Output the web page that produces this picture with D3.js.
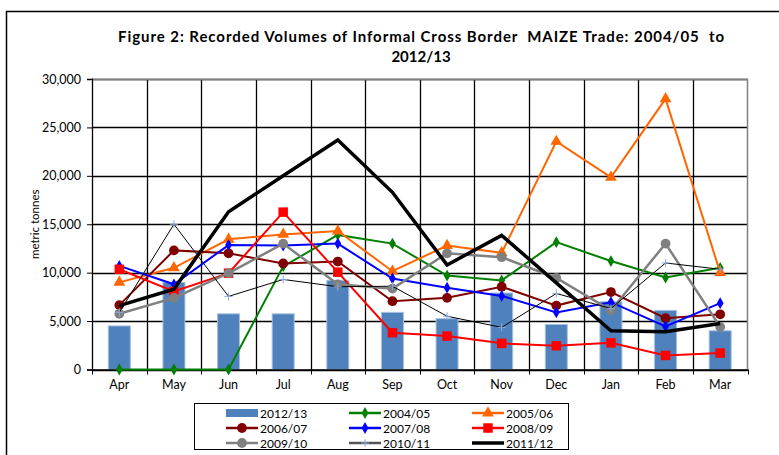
<!DOCTYPE html>
<html>
<head>
<meta charset="utf-8">
<script src="https://d3js.org/d3.v7.min.js"></script>
<style>
  body { margin: 0; background: #fff; }
  text { font-family: Lato, "DejaVu Sans", sans-serif; }
</style>
</head>
<body>
<div id="my_dataviz"></div>
<script>
// months and y ticks
var months = ["Apr", "May", "Jun", "Jul", "Aug", "Sep", "Oct", "Nov", "Dec", "Jan", "Feb", "Mar"]
var yTicks = [0, 5000, 10000, 15000, 20000, 25000, 30000]

// bars
var v2012 = [4500, 9000, 5750, 5750, 9200, 5900, 5250, 7900, 4650, 7000, 6100, 4000]

// lines
var v2004 = [0, 0, 0, 10650, 13900, 13000, 9700, 9200, 13150, 11200, 9500, 10500]
var v2005 = [9000, 10500, 13450, 13950, 14300, 10150, 12800, 12050, 23550, 19850, 27950, 10000]
var v2006 = [6650, 12300, 12000, 10950, 11150, 7050, 7400, 8550, 6600, 8000, 5300, 5700]
var v2007 = [10700, 8800, 12850, 12800, 13000, 9400, 8450, 7600, 5900, 6950, 4450, 6850]
var v2008 = [10350, 8050, 9950, 16250, 10050, 3800, 3450, 2700, 2450, 2750, 1450, 1700]
var v2009 = [5750, 7400, 9950, 13000, 8800, 8350, 12000, 11600, 9450, 6100, 13000, 4400]
var v2010 = [5900, 15000, 7550, 9300, 8550, 8600, 5500, 4350, 7850, 6300, 11000, 10350]
var v2011 = [6600, 8300, 16300, 20000, 23700, 18300, 10800, 13850, 8950, 4000, 3900, 4750]

var series = [
    { name: "2004/05", values: v2004, color: "#008000", width: 2, marker: "diamond", size: 40 },
    { name: "2005/06", values: v2005, color: "#FF6600", width: 2, marker: "triangle", size: 60 },
    { name: "2006/07", values: v2006, color: "#800000", width: 2, marker: "circle", size: 75 },
    { name: "2007/08", values: v2007, color: "#0000FF", width: 2, marker: "diamond", size: 40 },
    { name: "2008/09", values: v2008, color: "#FF0000", width: 2, marker: "square", size: 90 },
    { name: "2009/10", values: v2009, color: "#808080", width: 2.5, marker: "circle", size: 75 },
    { name: "2010/11", values: v2010, color: "#000000", width: 1, marker: "plus", size: 50, markerColor: "#8EA9DB" },
    { name: "2011/12", values: v2011, color: "#000000", width: 3.5, marker: "none" }
]

var width = 779, height = 455
var margin = { left: 92, right: 779 - 747.5, top: 79, bottom: 455 - 369.5 }

var svg = d3.select("#my_dataviz")
    .append("svg")
    .attr("width", width)
    .attr("height", height)

// outer frame
svg.append("path")
    .attr("d", "M6.5,460 L6.5,11.5 L779,11.5")
    .attr("fill", "none")
    .attr("stroke", "#000")
    .attr("stroke-width", 1.5)

// title
svg.append("text")
    .attr("x", 421).attr("y", 42)
    .attr("text-anchor", "middle")
    .attr("textLength", 606)
    .attr("lengthAdjust", "spacing")
    .attr("xml:space", "preserve")
    .style("font-size", "15px").style("font-weight", "bold")
    .text("Figure 2: Recorded Volumes of Informal Cross Border  MAIZE Trade: 2004/05  to")
svg.append("text")
    .attr("x", 421).attr("y", 62)
    .attr("text-anchor", "middle")
    .style("font-size", "15px").style("font-weight", "bold")
    .text("2012/13")

var x = d3.scaleBand()
    .domain(months)
    .range([margin.left, width - margin.right])

var y = d3.scaleLinear()
    .domain([0, 30000])
    .range([height - margin.bottom, margin.top])

// horizontal grid
svg.append("g")
    .selectAll("line")
    .data(yTicks)
    .enter()
    .append("line")
    .attr("x1", margin.left).attr("x2", width - margin.right)
    .attr("y1", function (d) { return Math.round(y(d)) + 0.5 })
    .attr("y2", function (d) { return Math.round(y(d)) + 0.5 })
    .attr("stroke", "#000")
    .attr("stroke-width", 1.3)

// vertical grid at band edges
svg.append("g")
    .selectAll("line")
    .data(months.slice(1))
    .enter()
    .append("line")
    .attr("x1", function (d) { return Math.round(x(d)) + 0.5 })
    .attr("x2", function (d) { return Math.round(x(d)) + 0.5 })
    .attr("y1", margin.top).attr("y2", height - margin.bottom)
    .attr("stroke", "#000")
    .attr("stroke-width", 1.3)

// plot border right/top
svg.append("path")
    .attr("d", "M" + margin.left + "," + (margin.top + 0.5) + " H" + (width - margin.right) + " V" + (height - margin.bottom))
    .attr("fill", "none")
    .attr("stroke", "#808080")
    .attr("stroke-width", 1.5)

// bars
var bw = 22
svg.append("g")
    .selectAll("rect")
    .data(v2012)
    .enter()
    .append("rect")
    .attr("x", function (d, i) { return x(months[i]) + x.bandwidth() / 2 - bw / 2 })
    .attr("y", function (d) { return y(d) })
    .attr("width", bw)
    .attr("height", function (d) { return y(0) - y(d) })
    .attr("fill", "#4F81BD")
    .attr("stroke", "#A7C0DE")
    .attr("stroke-width", 1)

// y axis
var yAxis = svg.append("g")
    .attr("transform", "translate(" + margin.left + ",0)")
    .call(d3.axisLeft(y).tickValues(yTicks).tickSize(5).tickFormat(d3.format(",")))
yAxis.selectAll("text").style("font-size", "12.5px").attr("fill", "#000").attr("x", -11)
yAxis.selectAll("line").attr("stroke", "#000")
yAxis.select(".domain").attr("stroke", "#000").attr("stroke-width", 1.3)

// x axis
var xAxis = svg.append("g")
    .attr("transform", "translate(0," + y(0) + ")")
    .call(d3.axisBottom(x).tickSize(0))
xAxis.select(".domain").attr("stroke", "#000").attr("stroke-width", 1.3)
xAxis.selectAll("text").style("font-size", "12.5px").attr("fill", "#000").attr("dy", "1.3em")
// ticks at band edges
svg.append("g")
    .selectAll("line")
    .data(months.concat(["end"]))
    .enter()
    .append("line")
    .attr("x1", function (d, i) { return Math.round(margin.left + i * x.bandwidth()) + 0.5 })
    .attr("x2", function (d, i) { return Math.round(margin.left + i * x.bandwidth()) + 0.5 })
    .attr("y1", y(0)).attr("y2", y(0) + 5)
    .attr("stroke", "#000")

// y axis title
svg.append("text")
    .attr("transform", "translate(39," + y(15000) + ") rotate(-90)")
    .attr("text-anchor", "middle")
    .style("font-size", "11.5px")
    .text("metric tonnes")

var symbolType = {
    diamond: d3.symbolDiamond,
    triangle: d3.symbolTriangle,
    circle: d3.symbolCircle,
    square: d3.symbolSquare,
    plus: d3.symbolCross
}

function drawMarker(g, s, px, py, size) {
    if (s.marker === "none") return
    if (s.marker === "plus") {
        var h = 4
        g.append("path")
            .attr("d", "M" + (px - h) + "," + py + " H" + (px + h) + " M" + px + "," + (py - h) + " V" + (py + h))
            .attr("stroke", s.markerColor)
            .attr("stroke-width", 1)
        return
    }
    g.append("path")
        .attr("transform", "translate(" + px + "," + py + ")")
        .attr("d", d3.symbol().type(symbolType[s.marker]).size(size)())
        .attr("fill", s.color)
}

var line = d3.line()
    .x(function (d, i) { return x(months[i]) + x.bandwidth() / 2 })
    .y(function (d) { return y(d) })

series.forEach(function (s) {
    var g = svg.append("g")
    g.append("path")
        .datum(s.values)
        .attr("d", line)
        .attr("fill", "none")
        .attr("stroke", s.color)
        .attr("stroke-width", s.width)
        .attr("stroke-linejoin", "miter")
    s.values.forEach(function (v, i) {
        drawMarker(g, s, x(months[i]) + x.bandwidth() / 2, y(v), s.size)
    })
})

// legend
var legend = svg.append("g")
legend.append("rect")
    .attr("x", 194.5).attr("y", 403.5)
    .attr("width", 374).attr("height", 46)
    .attr("fill", "#fff").attr("stroke", "#000").attr("stroke-width", 1)

var legendItems = [{ name: "2012/13", bar: true }].concat(series)
legendItems.forEach(function (s, i) {
    var col = i % 3, row = Math.floor(i / 3)
    var lx = 226 + col * 123, ly = 413 + row * 15
    if (s.bar) {
        legend.append("rect")
            .attr("x", lx).attr("y", ly - 4)
            .attr("width", 32).attr("height", 8)
            .attr("fill", "#4F81BD")
    } else {
        legend.append("line")
            .attr("x1", lx).attr("x2", lx + 32)
            .attr("y1", ly).attr("y2", ly)
            .attr("stroke", s.name === "2010/11" ? "#555" : s.color)
            .attr("stroke-width", s.name === "2011/12" ? 3.5 : 2.5)
        drawMarker(legend, s, lx + 16, ly, s.size)
    }
    legend.append("text")
        .attr("x", lx + 34).attr("y", ly + 4.5)
        .style("font-size", "12px")
        .text(s.name)
})
</script>
</body>
</html>
